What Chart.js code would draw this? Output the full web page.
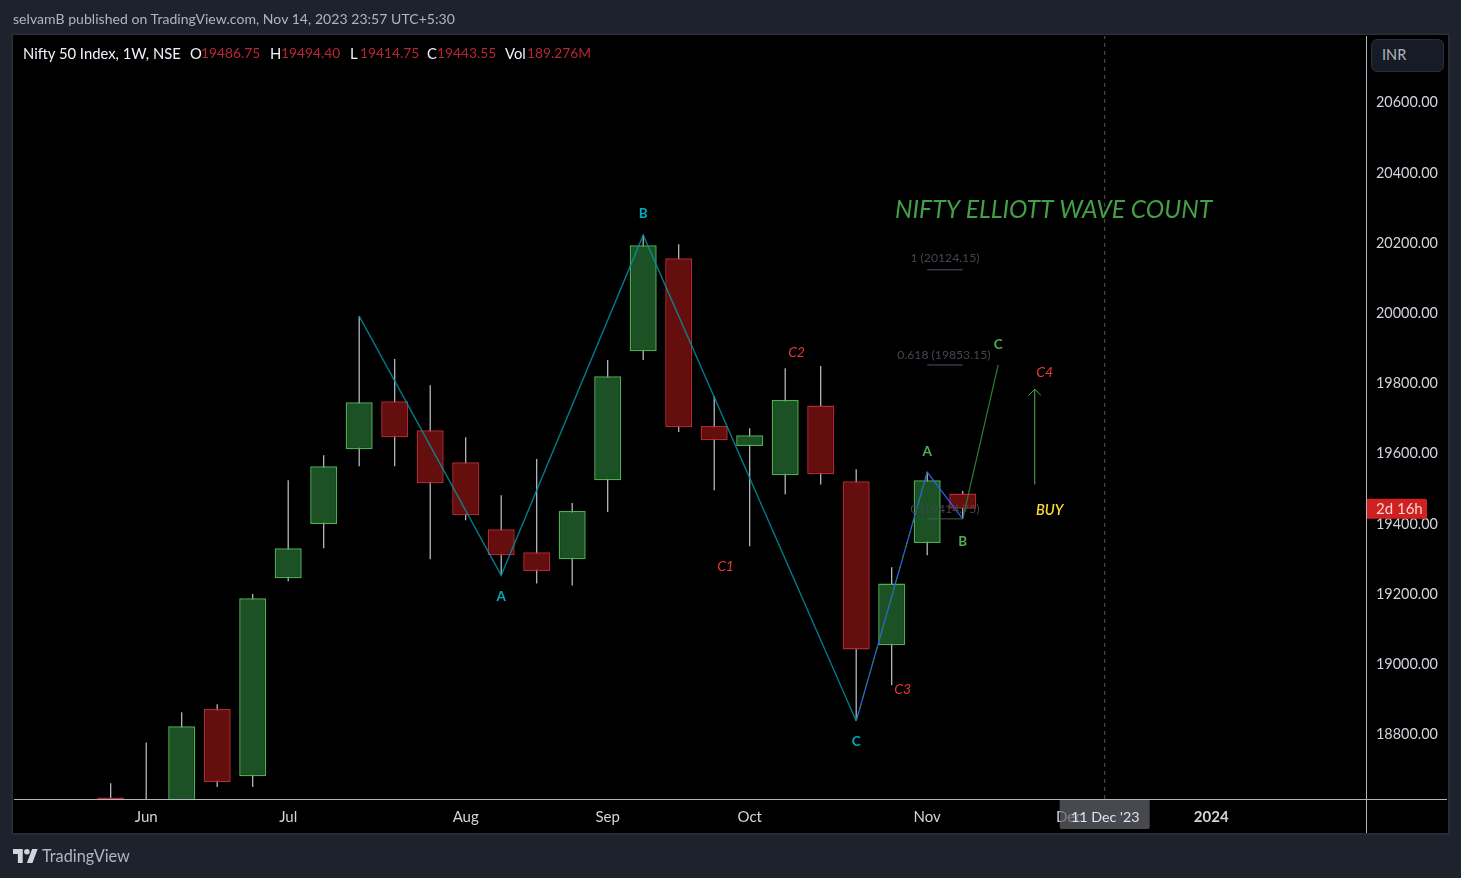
<!DOCTYPE html>
<html><head><meta charset="utf-8">
<script src="https://cdn.jsdelivr.net/npm/chart.js@4"></script>
<style>
html,body{margin:0;padding:0;background:#1e222d;width:1461px;height:878px;overflow:hidden;font-family:Lato,sans-serif}
#panel{position:absolute;left:13px;top:35px;width:1435px;height:798px;background:#000;box-shadow:0 0 0 1.5px #2a2e39}
canvas{position:absolute;left:0;top:0}
.t{position:absolute;white-space:pre;font-size:13.8px;line-height:18px}
.ln{position:absolute;background:#b2b5be}
#inr{position:absolute;left:1371px;top:39px;width:71px;height:31px;border:1px solid #2a2e39;border-radius:6px;background:#171b25;color:#b2b5be;font-size:14.5px;line-height:29px;text-indent:10px}
</style></head><body>
<div id="panel"></div>
<div class="ln" style="left:14px;top:799px;width:1433px;height:1px"></div>
<div class="ln" style="left:1366px;top:36px;width:1px;height:797px"></div>
<canvas id="c" width="1461" height="878"></canvas>
<div class="t" style="left:13px;top:10px;color:#b2b5be;font-size:14px;letter-spacing:.05px" id="pub">selvamB published on TradingView.com, Nov 14, 2023 23:57 UTC+5:30</div>
<div id="leg"></div>
<div id="inr">INR</div>
<svg style="position:absolute;left:13px;top:849px" width="25" height="14" viewBox="0 0 36 20"><path fill="#d1d4dc" d="M14 20H7V7H0V0h14zM28 20h-8L27.5 0h8z"/><circle cx="20" cy="4" r="4" fill="#d1d4dc"/></svg>
<div class="t" style="left:42px;top:847px;color:#b2b5be;font-size:16.3px">TradingView</div>
<script>
// ---- data ----
const weeks   = [0,1,2,3,4,5,6,7,8,9,10,11,12,13,14,15,16,17,18,19,20,21,22,23,24];
const opens   = [18621,18550,18600,18873,18682,19246,19400,19613,19750,19667,19576,19385,19320,19300,19525,19892,20157,19679,19622,19539,19738,19522,19055,19346,19486.75];
const highs   = [18662,18778,18864,18887,19201,19525,19596,19992,19870,19795,19647,19482,19585,19460,19867,20223,20197,19764,19673,19844,19850,19556,19277,19548,19494.40];
const lows    = [18464,18550,18553,18651,18651,19237,19331,19565,19565,19300,19411,19254,19231,19225,19434,19867,19662,19496,19337,19485,19513,18839,18941,19311,19414.75];
const closes  = [18534,18563,18824,18665,19189,19331,19565,19747,19647,19516,19425,19311,19266,19437,19821,20194,19676,19639,19653,19753,19542,19043,19231,19525,19443.55];
const yTicks  = [18800,19000,19200,19400,19600,19800,20000,20200,20400,20600];
const xTickPos    = [1,5,10,14,18,23,27,31];
const xTickLabels = ['Jun','Jul','Aug','Sep','Oct','Nov','Dec','2024'];
const waveX = [7,11,15,21];
const waveY = [19992,19254,20223,18839];
const fibWaveX = [21,23,24];
const fibWaveY = [18839,19548,19414.75];
const projX = [24,25];
const projY = [19414.75,19853.15];
const proj2X = [21,23];
const proj2Y = [18839,19548];
const arrowX = [26.03,26.03,null,25.86,26.03,26.2];
const arrowY = [19513,19784,null,19767,19784,19767];
const fibLevels = [20124.15,19853.15,19414.75];
const fibX = [23,24];
const fibLabels = ['1 (20124.15)','0.618 (19853.15)','0 (19414.75)'];
const fibLabelY = [20157,19881,19442];
const fibLabelX = [23.5,23.47,23.5];
const abcLabels = ['A','B','C'];
const abcX = [11,15,21];
const abcY = [19194,20285,18779];
const abc2Labels = ['A','B','C'];
const abc2X = [23,24,25];
const abc2Y = [19605,19351,19912];
const cLabels = ['C1','C2','C3','C4'];
const cX = [17.32,19.32,22.31,26.31];
const cY = [19280,19889,18930,19832];
const legendParts = [['Nifty 50 Index, 1W, NSE',0],['O',0],['19486.75',1],['H',0],['19494.40',1],['L',0],['19414.75',1],['C',0],['19443.55',1],['Vol',0],['189.276M',1]];
const legendLeft = [23,190,201,270,281,350,360,427,437,505,527];
const cursorWeek = 28;
const cursorLabel = "11 Dec '23";
const countdown = '2d 16h';
const title = 'NIFTY ELLIOTT WAVE COUNT';

const leg = document.getElementById('leg');
legendParts.forEach((p,i)=>{
  const d=document.createElement('div');d.className='t';d.textContent=p[0];
  d.style.left=legendLeft[i]+'px';d.style.top='44px';d.style.color=p[1]?'#b22833':'#f0f3fa';
  if(!p[1])d.style.fontSize='14.8px';
  leg.appendChild(d);
});

const UP_F='#1b5125',UP_B='#4caf50',DN_F='#640e0e',DN_B='#b22833';
const F="Lato, sans-serif";
const textPlugin={id:'texts',afterDraw(chart){
  const {ctx,scales:{x,y}}=chart;
  const put=(s,xv,yv,font,col,al)=>{ctx.font=font;ctx.fillStyle=col;ctx.textAlign=al||'center';ctx.textBaseline='middle';ctx.fillText(s,x.getPixelForValue(xv),y.getPixelForValue(yv));};
  ctx.save();
  fibLabels.forEach((s,i)=>put(s,fibLabelX[i],fibLabelY[i],'12.2px '+F,'#434651'));
  abcLabels.forEach((s,i)=>put(s,abcX[i],abcY[i],'bold 13.5px '+F,'#00acc1'));
  abc2Labels.forEach((s,i)=>put(s,abc2X[i],abc2Y[i],'bold 13.5px '+F,'#4caf50'));
  cLabels.forEach((s,i)=>put(s,cX[i],cY[i],'italic 14px '+F,'#e53935'));
  put('BUY',26.45,19439,'italic 600 14.5px '+F,'#fdd835');
  put(title,26.56,20294,'italic 24.7px '+F,'#43a047');
  // cursor time label
  const cx=x.getPixelForValue(cursorWeek);
  ctx.fillStyle='rgba(96,98,106,0.75)';
  ctx.beginPath();ctx.roundRect(cx-45,800,90,29,[0,0,2,2]);ctx.fill();
  ctx.font='14.3px '+F;ctx.fillStyle='#e0e3eb';ctx.textAlign='center';ctx.textBaseline='middle';
  ctx.fillText(cursorLabel,cx+0.5,817);
  // last price tag
  const py=y.getPixelForValue(closes[closes.length-1]);
  ctx.fillStyle='#d0201f';
  ctx.beginPath();ctx.roundRect(1367,py-10,60,20,[0,2,2,0]);ctx.fill();
  ctx.font='15px '+F;ctx.fillStyle='#f5d5d5';ctx.textAlign='left';
  ctx.fillText(countdown,1376,py+0.5);
  ctx.restore();
}};

const line=(xs,ys,color,order,extra)=>Object.assign({type:'line',data:xs.map((v,i)=>({x:v,y:ys[i]})),borderColor:color,backgroundColor:color,borderWidth:1,pointRadius:0,tension:0,spanGaps:false,fill:false,order},extra||{});

const PX0=110.7, PXW=35.5;
new Chart(document.getElementById('c'),{
  type:'bar',
  plugins:[textPlugin],
  data:{datasets:[
    ...fibLevels.map(l=>line(fibX,[l,l],'#50535e',1)),
    line(waveX,waveY,'rgba(0,150,167,0.8)',1,{borderWidth:1.4}),
    line(fibWaveX,fibWaveY,'#2962ff',1,{borderWidth:1.2}),
    line(proj2X,proj2Y,'#2e7d32',0.9,{borderDash:[6,6]}),
    line(projX,projY,'#2e7d32',1,{borderWidth:1.2}),
    line(arrowX,arrowY,'#4caf50',1),
    line([cursorWeek,cursorWeek],[18617,20790],'#55565c',4,{borderDash:[4,4]}),
    {type:'bar',label:'wick',order:3,barThickness:1.2,borderWidth:0,inflateAmount:0,grouped:false,
     backgroundColor:'#c4c6ce',
     data:weeks.map((w,i)=>({x:w,y:[lows[i],highs[i]]}))},
    {type:'bar',label:'body',order:2,barThickness:27,borderWidth:1.5,borderSkipped:false,inflateAmount:0,grouped:false,
     backgroundColor:weeks.map((w,i)=>closes[i]>=opens[i]?UP_F:DN_F),
     borderColor:weeks.map((w,i)=>closes[i]>=opens[i]?UP_B:DN_B),
     data:weeks.map((w,i)=>({x:w,y:[opens[i],closes[i]]}))}
  ]},
  options:{
    responsive:false,animation:false,events:[],
    layout:{padding:{left:14,top:36,right:14,bottom:45}},
    plugins:{legend:{display:false},tooltip:{enabled:false},title:{display:false}},
    scales:{
      x:{type:'linear',min:(14-PX0)/PXW,max:(1366-PX0)/PXW,offset:false,
        grid:{display:false,drawTicks:false},border:{display:true,color:'#b2b5be'},
        afterBuildTicks(s){s.ticks=xTickPos.map(v=>({value:v}));},
        afterFit(s){s.height=34;},
        ticks:{autoSkip:false,maxRotation:0,padding:9,color:'#d1d4dc',
          font:c=>({family:F,size:15,weight:c.tick&&c.tick.value===31?'bold':'normal'}),
          callback:v=>xTickLabels[xTickPos.indexOf(v)]}},
      y:{type:'linear',position:'right',min:18616.9,max:20790.1,
        grid:{display:false,drawTicks:false},border:{display:true,color:'#b2b5be'},
        afterBuildTicks(s){s.ticks=yTicks.map(v=>({value:v}));},
        afterFit(s){s.width=81;},
        ticks:{padding:10,color:'#d1d4dc',font:{family:F,size:14.4},callback:v=>Number(v).toFixed(2)}}
    }
  }
});
</script>
</body></html>
